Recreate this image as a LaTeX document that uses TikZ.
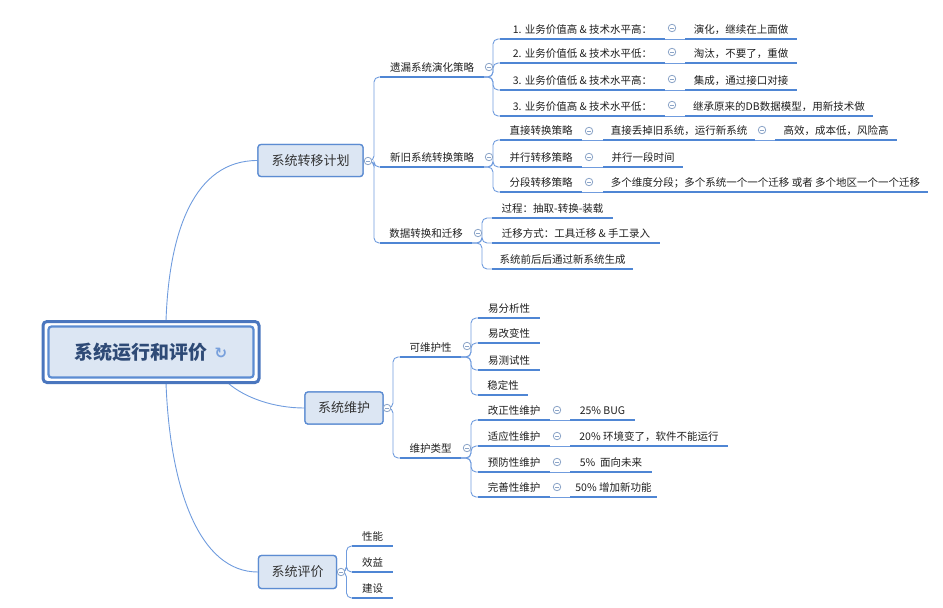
\documentclass[tikz,border=0pt]{standalone}
\usepackage{fontspec}
\setmainfont{Noto Sans CJK SC}
\newfontfamily\djv{DejaVu Sans}
\usetikzlibrary{calc}
\definecolor{ul}{RGB}{79,134,212}
\definecolor{cnc}{RGB}{112,156,222}
\definecolor{bxf}{RGB}{220,230,243}
\definecolor{bxd}{RGB}{92,140,210}
\definecolor{tg}{RGB}{140,165,200}
\definecolor{rt}{RGB}{46,74,118}
\definecolor{rto}{RGB}{74,118,190}
\definecolor{ico}{RGB}{120,160,220}
\tikzset{
 uline/.style={draw=ul, line width=2.6pt},
 conn/.style={draw=cnc, line width=0.9pt, rounded corners=5pt},
 rconn/.style={draw=cnc, line width=0.9pt},
 lbl/.style={font=\fontsize{10.5}{12}\selectfont, text=black!88, inner sep=0pt},
 tog/.style={circle, draw=tg, fill=white, line width=0.8pt, minimum size=7.5pt, inner sep=0pt,
   path picture={\draw[tg, line width=0.8pt] ([xshift=-2pt]path picture bounding box.center) -- ([xshift=2pt]path picture bounding box.center);}},
 l1box/.style={draw=bxd, fill=bxf, line width=1.3pt, rounded corners=3pt, font=\fontsize{13}{15}\selectfont, text=black!80, inner sep=0pt},
 rootout/.style={draw=rto, fill=white, line width=3pt, rounded corners=4pt, minimum width=216pt, minimum height=61pt, inner sep=0pt},
 rootin/.style={draw=bxd, fill=bxf, line width=2.2pt, rounded corners=3pt, minimum width=205pt, minimum height=51pt, inner sep=0pt},
 roottxt/.style={font=\fontsize{19}{22}\selectfont\bfseries, text=rt, inner sep=0pt},
}
\newcommand\tp[5]{%
  \draw[uline] (#2,#4) coordinate (#1-l) -- (#3,#4) coordinate (#1-r);
  \node[lbl, anchor=base] (#1) at ({(#2+#3)/2},{#4-5.5}) {#5};}
\newcommand\brc[3]{\draw[conn] (#1) -- (#1 -| #3) -- (#2 -| #3) -- (#2);}
\newcommand\tgl[3]{\node[tog] (#1) at (#2,#3) {};}
\begin{document}
\begin{tikzpicture}[x=1pt,y=-1pt]
\useasboundingbox (0,0) rectangle (943,608);
% root and level-1 nodes (positions)
\coordinate (rc) at (151,352);
\node[l1box, minimum width=105pt, minimum height=32pt] (tl) at (310.5,160.5) {系统转移计划};
\node[l1box, minimum width=78pt, minimum height=32pt] (wh) at (344,408) {系统维护};
\node[l1box, minimum width=78pt, minimum height=33pt] (pj) at (297.5,572) {系统评价};
% root connectors
\draw[rconn] ([xshift=15pt]rc |- 0,321) .. controls +(3,-90) and +(-63,0) .. (tl.west);
\draw[rconn] (228,383) coordinate (rm) .. controls +(17,15) and +(-30,0) .. (wh.west);
\draw[rconn] ([xshift=15pt]rc |- 0,383) .. controls +(4,107) and +(-58,0) .. (pj.west);
% root box
\node[rootout] (rootbox) at (rc) {};
\node[rootin] (root) at (rc) {};
\node[roottxt] (roott) at (141,352) {系统运行和评价};
\node[text=ico, inner sep=0pt, font=\djv\bfseries\fontsize{15}{15}\selectfont] (icon) at (221,353) {↻};
% redraw level-1 boxes on top
\node[l1box, minimum width=105pt, minimum height=32pt] at (tl) {系统转移计划};
\node[l1box, minimum width=78pt, minimum height=32pt] at (wh) {系统维护};
\node[l1box, minimum width=78pt, minimum height=33pt] at (pj) {系统评价};
% stems
\coordinate (stl) at (374,0);
\coordinate (syl) at (493,0);
\coordinate (sxj) at (493,0);
\coordinate (ssj) at (482,0);
\coordinate (swh) at (393,0);
\coordinate (sg) at (471,0);
\coordinate (sh) at (471,0);
\coordinate (spj) at (346.5,0);
% toggles positions (named coordinates for connectors)
\coordinate (ttl-c) at (368,161);
\coordinate (twh-c) at (387,408);
\coordinate (tpj-c) at (341,572);
% topics
\tp{yl}{380}{484}{77}{遗漏系统演化策略}
\tp{xj}{380}{484}{167}{新旧系统转换策略}
\tp{sj}{380}{472}{243}{数据转换和迁移}
\tp{a1}{500}{665}{39}{1. 业务价值高 \& 技术水平高：}
\tp{a2}{500}{665}{63}{2. 业务价值低 \& 技术水平低：}
\tp{a3}{500}{665}{90}{3. 业务价值低 \& 技术水平高：}
\tp{a4}{500}{665}{116}{3. 业务价值高 \& 技术水平低：}
\tp{b1}{685}{797}{39}{演化，继续在上面做}
\tp{b2}{685}{797}{63}{淘汰，不要了，重做}
\tp{b3}{685}{797}{90}{集成，通过接口对接}
\tp{b4}{685}{873}{116}{继承原来的DB数据模型，用新技术做}
\tp{c1}{500}{582}{140}{直接转换策略}
\tp{c2}{500}{582}{167}{并行转移策略}
\tp{c3}{500}{582}{192}{分段转移策略}
\tp{d1}{603}{755}{140}{直接丢掉旧系统，运行新系统}
\tp{e1}{775}{897}{140}{高效，成本低，风险高}
\tp{d2}{603}{683}{167}{并行一段时间}
\tp{d3}{603}{928}{192}{多个维度分段；多个系统一个一个迁移 或者 多个地区一个一个迁移}
\tp{f1}{492}{613}{218}{过程：抽取-转换-装载}
\tp{f2}{492}{660}{243}{迁移方式：工具迁移 \& 手工录入}
\tp{f3}{492}{633}{269}{系统前后后通过新系统生成}
\tp{g}{400}{461}{357}{可维护性}
\tp{h}{400}{461}{458}{维护类型}
\tp{g1}{478}{540}{318}{易分析性}
\tp{g2}{478}{540}{343}{易改变性}
\tp{g3}{478}{540}{370}{易测试性}
\tp{g4}{478}{528}{395}{稳定性}
\tp{h1}{478}{550}{420}{改正性维护}
\tp{h2}{478}{550}{446}{适应性维护}
\tp{h3}{478}{550}{472}{预防性维护}
\tp{h4}{478}{550}{497}{完善性维护}
\tp{i1}{570}{635}{420}{25\% BUG}
\tp{i2}{570}{728}{446}{20\% 环境变了，软件不能运行}
\tp{i3}{570}{652}{472}{5\%\ \ 面向未来}
\tp{i4}{570}{657}{497}{50\% 增加新功能}
\tp{j1}{352}{393}{546}{性能}
\tp{j2}{352}{393}{572}{效益}
\tp{j3}{352}{393}{598}{建设}
% connectors
\brc{ttl-c}{yl-l}{stl}\brc{ttl-c}{xj-l}{stl}\brc{ttl-c}{sj-l}{stl}
\brc{yl-r}{a1-l}{syl}\brc{yl-r}{a2-l}{syl}\brc{yl-r}{a3-l}{syl}\brc{yl-r}{a4-l}{syl}
\draw[rconn] (a1-r) -- (b1-l); \draw[rconn] (a2-r) -- (b2-l);
\draw[rconn] (a3-r) -- (b3-l); \draw[rconn] (a4-r) -- (b4-l);
\brc{xj-r}{c1-l}{sxj}\brc{xj-r}{c2-l}{sxj}\brc{xj-r}{c3-l}{sxj}
\draw[rconn] (c1-r) -- (d1-l); \draw[rconn] (d1-r) -- (e1-l);
\draw[rconn] (c2-r) -- (d2-l); \draw[rconn] (c3-r) -- (d3-l);
\brc{sj-r}{f1-l}{ssj}\brc{sj-r}{f2-l}{ssj}\brc{sj-r}{f3-l}{ssj}
\brc{twh-c}{g-l}{swh}\brc{twh-c}{h-l}{swh}
\brc{g-r}{g1-l}{sg}\brc{g-r}{g2-l}{sg}\brc{g-r}{g3-l}{sg}\brc{g-r}{g4-l}{sg}
\brc{h-r}{h1-l}{sh}\brc{h-r}{h2-l}{sh}\brc{h-r}{h3-l}{sh}\brc{h-r}{h4-l}{sh}
\draw[rconn] (h1-r) -- (i1-l); \draw[rconn] (h2-r) -- (i2-l);
\draw[rconn] (h3-r) -- (i3-l); \draw[rconn] (h4-r) -- (i4-l);
\brc{tpj-c}{j1-l}{spj}\brc{tpj-c}{j2-l}{spj}\brc{tpj-c}{j3-l}{spj}
% toggles
\tgl{ttl}{368}{161}\tgl{twh}{387}{408}\tgl{tpj}{341}{572}
\tgl{tyl}{489}{67}\tgl{txj}{489}{157}\tgl{tsj}{478}{233}
\tgl{ta1}{672}{28}\tgl{ta2}{672}{52}\tgl{ta3}{672}{79}\tgl{ta4}{672}{105}
\tgl{tc1}{589}{131}\tgl{tc2}{589}{157}\tgl{tc3}{589}{182}\tgl{td1}{762}{130}
\tgl{tg}{467}{346}\tgl{th}{467}{448}
\tgl{th1}{557}{410}\tgl{th2}{557}{436}\tgl{th3}{557}{462}\tgl{th4}{557}{487}
\end{tikzpicture}
\end{document}
